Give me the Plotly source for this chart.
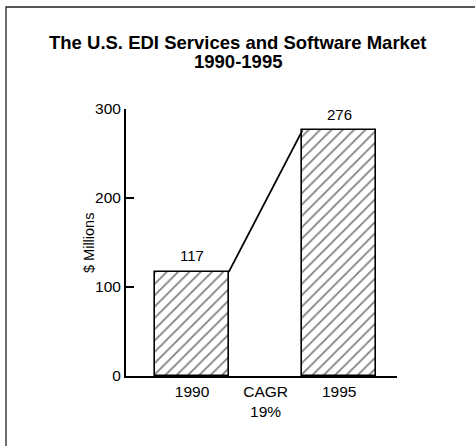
import plotly.graph_objects as go

# Data
categories = ["1990", "CAGR<br>19%", "1995"]
bar_years = ["1990", "1995"]
bar_values = [117, 276]
y_ticks = [0, 100, 200, 300]
y_title = "$ Millions"
title_lines = ["The U.S. EDI Services and Software Market", "1990-1995"]

W, H = 475, 446
ML, MR, MT, MB = 126, 78, 109, 70

bar_x = [categories.index(y) for y in bar_years]
FONT = "Liberation Sans, Arial, Helvetica"

fig = go.Figure()
fig.add_trace(go.Bar(
    x=bar_x, y=bar_values, width=1.0,
    marker=dict(color="white", line=dict(color="black", width=1.6),
                pattern=dict(shape="/", fgcolor="black", bgcolor="white", size=8, solidity=0.22)),
    showlegend=False, hoverinfo="skip",
))
# connecting line from top-right of first bar to top-left of second bar
fig.add_trace(go.Scatter(
    x=[bar_x[0] + 0.5, bar_x[1] - 0.5], y=bar_values, mode="lines",
    line=dict(color="black", width=1.8), showlegend=False, hoverinfo="skip",
))

for xv, v in zip(bar_x, bar_values):
    fig.add_annotation(x=xv, y=v, text=str(v), showarrow=False, yshift=16,
                       font=dict(family=FONT, size=15, color="black"))

pw = W - ML - MR
ph = H - MT - MB
fig.add_shape(type="rect", xref="paper", yref="paper",
              x0=(6 - ML) / pw, x1=(480 - ML) / pw,
              y0=(H - MB - 452) / ph, y1=(H - MB - 7) / ph,
              line=dict(color="#222", width=1.3), layer="below")

# title lines
for line, ypix in zip(title_lines, [42, 61]):
    fig.add_annotation(xref="paper", yref="paper", x=(237.5 - ML) / pw,
                       y=(H - MB - ypix) / ph, text="<b>" + line + "</b>",
                       showarrow=False, xanchor="center", yanchor="middle",
                       font=dict(family=FONT, size=18.5, color="black"))

# y-axis title
fig.add_annotation(xref="paper", yref="paper", x=(89 - ML) / pw, y=(H - MB - 243) / ph,
                   text=y_title, textangle=-90, showarrow=False,
                   xanchor="center", yanchor="middle",
                   font=dict(family=FONT, size=14.5, color="black"))

fig.update_layout(
    width=W, height=H,
    margin=dict(l=ML, r=MR, t=MT, b=MB),
    paper_bgcolor="white", plot_bgcolor="white",
    font=dict(family=FONT, size=15, color="black"),
    bargap=0,
    xaxis=dict(range=[-0.897, 2.785], tickmode="array", tickvals=[0, 1, 2], ticktext=categories,
               showline=True, linecolor="black", linewidth=2, showgrid=False, zeroline=False,
               ticks="", fixedrange=True, tickfont=dict(size=15.5), automargin=False),
    yaxis=dict(range=[0, 300], tickmode="array", tickvals=y_ticks,
               showline=True, linecolor="black", linewidth=2, showgrid=False, zeroline=False,
               ticks="inside", ticklen=8, tickwidth=1.5, tickcolor="black",
               tickfont=dict(size=15.5), automargin=False),
)

fig.write_html("out.html", config={"displayModeBar": False},
               post_script="document.body.style.margin='0';document.body.style.overflow='hidden';")
